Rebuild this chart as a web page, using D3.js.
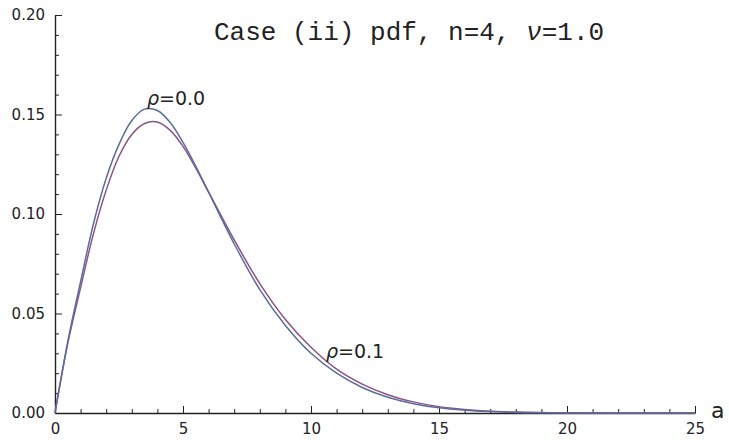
<!DOCTYPE html>
<html>
<head>
<meta charset="utf-8">
<script src="https://cdn.jsdelivr.net/npm/d3@7"></script>
<style>
  body { margin: 0; background: #fff; }
  svg { display: block; }
  .axis path, .axis line { stroke: #222; }
  .axis text { font-family: "DejaVu Sans", sans-serif; font-size: 15px; fill: #222; }
</style>
</head>
<body>
<svg id="chart" width="729" height="440"></svg>
<script>
// values
const aValues = [0, 0.5, 1, 1.5, 2, 2.5, 3, 3.5, 4, 4.5, 5, 5.5, 6, 7, 8, 9, 10, 11, 12, 13, 14, 15, 16, 17, 18, 19, 20, 22, 25];
const rho00 = [0, 0.036, 0.066, 0.095, 0.118, 0.135, 0.147, 0.1527, 0.152, 0.146, 0.136, 0.124, 0.111, 0.085, 0.062, 0.044, 0.030, 0.020, 0.0128, 0.0079, 0.0047, 0.0026, 0.0014, 0.0007, 0.0003, 0.00015, 0.00006, 0.00001, 0];
const rho01 = [0, 0.035, 0.063, 0.090, 0.112, 0.129, 0.140, 0.1455, 0.1462, 0.142, 0.134, 0.123, 0.111, 0.087, 0.065, 0.047, 0.033, 0.022, 0.0145, 0.0092, 0.0056, 0.0032, 0.0018, 0.0009, 0.00045, 0.0002, 0.0001, 0.00002, 0];
const xMajorTicks = [0, 5, 10, 15, 20, 25];
const xMinorTicks = d3.range(0, 26, 1).filter(d => d % 5 !== 0);
const yMajorTicks = [0, 0.05, 0.10, 0.15, 0.20];
const yMinorTicks = d3.range(1, 20).filter(d => d % 5 !== 0).map(d => d / 100);

const svg = d3.select("#chart");

const x = d3.scaleLinear().domain([0, 25]).range([55, 695]);
const y = d3.scaleLinear().domain([0, 0.2]).range([413, 15]);

// axes, ticks pointing inward
svg.append("g")
    .attr("class", "axis")
    .attr("transform", "translate(0,413)")
    .call(d3.axisBottom(x).tickValues(xMajorTicks).tickSize(-7).tickSizeOuter(0).tickPadding(10))
    .call(g => g.select(".domain").attr("stroke-width", 1.4));
svg.append("g")
    .attr("class", "axis")
    .attr("transform", "translate(0,413)")
    .call(d3.axisBottom(x).tickValues(xMinorTicks).tickSize(-4).tickFormat(""))
    .call(g => g.select(".domain").remove());

svg.append("g")
    .attr("class", "axis")
    .attr("transform", "translate(55,0)")
    .call(d3.axisLeft(y).tickValues(yMajorTicks).tickSize(-7).tickSizeOuter(0).tickPadding(10)
        .tickFormat(d3.format(".2f")))
    .call(g => g.select(".domain").attr("stroke-width", 1.4));
svg.append("g")
    .attr("class", "axis")
    .attr("transform", "translate(55,0)")
    .call(d3.axisLeft(y).tickValues(yMinorTicks).tickSize(-4).tickFormat(""))
    .call(g => g.select(".domain").remove());

// curves
const line = d3.line()
    .x(d => x(d[0]))
    .y(d => y(d[1]))
    .curve(d3.curveCatmullRom.alpha(0.5));

svg.append("path")
    .datum(d3.zip(aValues, rho01))
    .attr("fill", "none")
    .attr("stroke", "#8a5488")
    .attr("stroke-width", 1.5)
    .attr("d", line);

svg.append("path")
    .datum(d3.zip(aValues, rho00))
    .attr("fill", "none")
    .attr("stroke", "#5a6c9c")
    .attr("stroke-width", 1.5)
    .attr("d", line);

// labels
function rhoLabel(px, py, txt) {
    const t = svg.append("text")
        .attr("x", px).attr("y", py)
        .attr("font-family", "DejaVu Sans, sans-serif")
        .attr("font-size", 19)
        .attr("fill", "#222");
    t.append("tspan").attr("font-style", "italic").text("\u03c1");
    t.append("tspan").text(txt);
}
rhoLabel(147, 105, "=0.0");
rhoLabel(326, 358, "=0.1");

const title = svg.append("text")
    .attr("x", 214).attr("y", 40)
    .attr("font-family", "Liberation Mono, monospace")
    .attr("font-size", 26)
    .attr("fill", "#222");
title.append("tspan").text("Case (ii) pdf, n=4, ");
title.append("tspan").attr("font-style", "italic").text("\u03bd");
title.append("tspan").text("=1.0");

svg.append("text")
    .attr("x", 711).attr("y", 418)
    .attr("font-family", "DejaVu Sans, sans-serif")
    .attr("font-size", 22)
    .attr("fill", "#222")
    .text("a");
</script>
</body>
</html>
